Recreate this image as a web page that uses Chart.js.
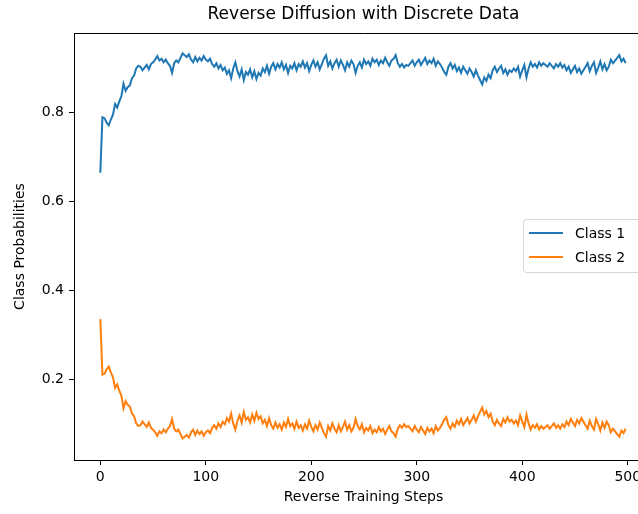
<!DOCTYPE html>
<html>
<head>
<meta charset="utf-8">
<script src="https://cdn.jsdelivr.net/npm/chart.js@4"></script>
<style>
  html, body { margin: 0; padding: 0; background: #fff; overflow: hidden; }
  #wrap { width: 638px; height: 514px; overflow: hidden; }
</style>
</head>
<body>
<div id="wrap"><canvas id="chart_diffusion" width="680" height="514"></canvas></div>
<script>
const chartTitle = "Reverse Diffusion with Discrete Data";
const seriesNames = ["Class 1", "Class 2"];
const xTicks = [0, 100, 200, 300, 400, 500];
const yTicks = [0.2, 0.4, 0.6, 0.8];

// class probabilities, read every 2nd step (0, 2, ... 498)
const class1 = [
  0.665, 0.790, 0.788, 0.778, 0.772, 0.785, 0.796, 0.820, 0.812, 0.826,
  0.838, 0.866, 0.850, 0.858, 0.862, 0.878, 0.884, 0.900, 0.906, 0.904,
  0.896, 0.902, 0.908, 0.898, 0.910, 0.914, 0.920, 0.928, 0.918, 0.922,
  0.914, 0.920, 0.912, 0.906, 0.890, 0.912, 0.918, 0.914, 0.924, 0.934,
  0.930, 0.926, 0.932, 0.920, 0.914, 0.926, 0.916, 0.924, 0.918, 0.928,
  0.920, 0.916, 0.922, 0.910, 0.904, 0.912, 0.900, 0.908, 0.896, 0.902,
  0.888, 0.896, 0.878, 0.900, 0.914, 0.894, 0.882, 0.898, 0.874, 0.892,
  0.886, 0.898, 0.880, 0.894, 0.876, 0.890, 0.884, 0.900, 0.892, 0.906,
  0.888, 0.904, 0.912, 0.898, 0.910, 0.902, 0.914, 0.898, 0.908, 0.890,
  0.906, 0.900, 0.912, 0.896, 0.910, 0.904, 0.916, 0.902, 0.912, 0.894,
  0.908, 0.918, 0.904, 0.914, 0.898, 0.910, 0.922, 0.930, 0.906, 0.916,
  0.900, 0.912, 0.920, 0.904, 0.918, 0.908, 0.896, 0.914, 0.904, 0.918,
  0.910, 0.890, 0.906, 0.914, 0.902, 0.920, 0.910, 0.916, 0.906, 0.922,
  0.914, 0.920, 0.908, 0.918, 0.912, 0.924, 0.914, 0.906, 0.918, 0.922,
  0.930, 0.912, 0.904, 0.910, 0.902, 0.908, 0.906, 0.912, 0.918, 0.906,
  0.914, 0.920, 0.908, 0.916, 0.924, 0.910, 0.918, 0.912, 0.922, 0.906,
  0.916, 0.910, 0.902, 0.892, 0.886, 0.904, 0.912, 0.900, 0.908, 0.894,
  0.902, 0.890, 0.904, 0.896, 0.888, 0.900, 0.892, 0.882, 0.896, 0.884,
  0.874, 0.864, 0.880, 0.872, 0.886, 0.878, 0.896, 0.904, 0.892, 0.900,
  0.906, 0.890, 0.898, 0.886, 0.896, 0.892, 0.900, 0.894, 0.904, 0.882,
  0.896, 0.908, 0.880, 0.900, 0.914, 0.904, 0.910, 0.902, 0.914, 0.906,
  0.912, 0.908, 0.904, 0.912, 0.906, 0.900, 0.910, 0.904, 0.912, 0.902,
  0.908, 0.896, 0.904, 0.890, 0.898, 0.906, 0.892, 0.900, 0.888, 0.896,
  0.904, 0.912, 0.894, 0.906, 0.914, 0.890, 0.902, 0.916, 0.898, 0.910,
  0.896, 0.904, 0.920, 0.912, 0.918, 0.924, 0.930, 0.916, 0.922, 0.912
];
const class2 = [
  0.335, 0.210, 0.212, 0.222, 0.228, 0.215, 0.204, 0.180, 0.188, 0.174,
  0.162, 0.134, 0.150, 0.142, 0.138, 0.122, 0.116, 0.100, 0.094, 0.096,
  0.104, 0.098, 0.092, 0.102, 0.090, 0.086, 0.080, 0.072, 0.082, 0.078,
  0.086, 0.080, 0.088, 0.094, 0.110, 0.088, 0.082, 0.086, 0.076, 0.066,
  0.070, 0.074, 0.068, 0.080, 0.086, 0.074, 0.084, 0.076, 0.082, 0.072,
  0.080, 0.084, 0.078, 0.090, 0.096, 0.088, 0.100, 0.092, 0.104, 0.098,
  0.112, 0.104, 0.122, 0.100, 0.086, 0.106, 0.118, 0.102, 0.126, 0.108,
  0.114, 0.102, 0.120, 0.106, 0.124, 0.110, 0.116, 0.100, 0.108, 0.094,
  0.112, 0.096, 0.088, 0.102, 0.090, 0.098, 0.086, 0.102, 0.092, 0.110,
  0.094, 0.100, 0.088, 0.104, 0.090, 0.096, 0.084, 0.098, 0.088, 0.106,
  0.092, 0.082, 0.096, 0.086, 0.102, 0.090, 0.078, 0.070, 0.094, 0.084,
  0.100, 0.088, 0.080, 0.096, 0.082, 0.092, 0.104, 0.086, 0.096, 0.082,
  0.090, 0.110, 0.094, 0.086, 0.098, 0.080, 0.090, 0.084, 0.094, 0.078,
  0.086, 0.080, 0.092, 0.082, 0.088, 0.076, 0.086, 0.094, 0.082, 0.078,
  0.070, 0.088, 0.096, 0.090, 0.098, 0.092, 0.094, 0.088, 0.082, 0.094,
  0.086, 0.080, 0.092, 0.084, 0.076, 0.090, 0.082, 0.088, 0.078, 0.094,
  0.084, 0.090, 0.098, 0.108, 0.114, 0.096, 0.088, 0.100, 0.092, 0.106,
  0.098, 0.110, 0.096, 0.104, 0.112, 0.100, 0.108, 0.118, 0.104, 0.116,
  0.126, 0.136, 0.120, 0.128, 0.114, 0.122, 0.104, 0.096, 0.108, 0.100,
  0.094, 0.110, 0.102, 0.114, 0.104, 0.108, 0.100, 0.106, 0.096, 0.118,
  0.104, 0.092, 0.120, 0.100, 0.086, 0.096, 0.090, 0.098, 0.086, 0.094,
  0.088, 0.092, 0.096, 0.088, 0.094, 0.100, 0.090, 0.096, 0.088, 0.098,
  0.092, 0.104, 0.096, 0.110, 0.102, 0.094, 0.108, 0.100, 0.112, 0.104,
  0.096, 0.088, 0.106, 0.094, 0.086, 0.110, 0.098, 0.084, 0.102, 0.090,
  0.104, 0.096, 0.080, 0.088, 0.082, 0.076, 0.070, 0.084, 0.078, 0.088
];
const steps = class1.map((_, i) => i * 2);

const colors = ["#1f77b4", "#ff7f0e"];
const fontFamily = "'DejaVu Sans', sans-serif";

// title over the axes, top spine, and a matplotlib style legend box
const mplExtras = {
  id: "mplExtras",
  afterDraw(chart) {
    const ctx = chart.ctx;
    const a = chart.chartArea;
    ctx.save();
    ctx.strokeStyle = "#000";
    ctx.lineWidth = 1;
    ctx.beginPath();
    ctx.moveTo(a.left, Math.round(a.top) + 0.5);
    ctx.lineTo(a.right, Math.round(a.top) + 0.5);
    ctx.moveTo(Math.round(a.right) - 0.5, a.top);
    ctx.lineTo(Math.round(a.right) - 0.5, a.bottom);
    ctx.stroke();

    ctx.fillStyle = "#000";
    ctx.font = "17px " + fontFamily;
    ctx.textAlign = "center";
    ctx.textBaseline = "middle";
    ctx.fillText(chartTitle, (a.left + a.right) / 2, 15);

    const bx = 523.5, by = 219.5, bw = 123, bh = 53;
    ctx.beginPath();
    ctx.roundRect(bx, by, bw, bh, 3);
    ctx.fillStyle = "rgba(255,255,255,0.8)";
    ctx.fill();
    ctx.strokeStyle = "#d6d6d6";
    ctx.stroke();

    ctx.font = "14px " + fontFamily;
    ctx.textAlign = "left";
    seriesNames.forEach((name, i) => {
      const ly = 233 + i * 24;
      ctx.strokeStyle = colors[i];
      ctx.lineWidth = 2;
      ctx.beginPath();
      ctx.moveTo(529, ly);
      ctx.lineTo(563, ly);
      ctx.stroke();
      ctx.fillStyle = "#000";
      ctx.fillText(name, 575, ly + 1);
    });
    ctx.restore();
  }
};

const ctx_diffusion = document.getElementById("chart_diffusion");

new Chart(ctx_diffusion, {
  type: "line",
  data: {
    labels: steps,
    datasets: [
      { label: seriesNames[0], data: class1, borderColor: colors[0], borderWidth: 2, pointRadius: 0, tension: 0 },
      { label: seriesNames[1], data: class2, borderColor: colors[1], borderWidth: 2, pointRadius: 0, tension: 0 }
    ]
  },
  options: {
    responsive: false,
    animation: false,
    layout: { padding: { top: 33, right: 27, left: 0, bottom: 0 } },
    plugins: {
      legend: { display: false },
      title: { display: false },
      tooltip: { enabled: false }
    },
    scales: {
      x: {
        type: "linear",
        min: -24.95,
        max: 523.95,
        afterFit: (s) => { s.height = 54; },
        afterBuildTicks: (s) => { s.ticks = xTicks.map(v => ({ value: v })); },
        grid: { display: true, drawOnChartArea: false, drawTicks: true, tickLength: 5, tickColor: "#000" },
        border: { display: true, color: "#000", width: 1 },
        ticks: { color: "#000", font: { family: fontFamily, size: 14 }, padding: 4, maxRotation: 0 },
        title: { display: true, text: "Reverse Training Steps", color: "#000", font: { family: fontFamily, size: 14 }, padding: { top: 0, bottom: 8 } }
      },
      y: {
        type: "linear",
        min: 0.0175,
        max: 0.98,
        afterFit: (s) => { s.width = 74; },
        afterBuildTicks: (s) => { s.ticks = yTicks.map(v => ({ value: v })); },
        grid: { display: true, drawOnChartArea: false, drawTicks: true, tickLength: 5, tickColor: "#000" },
        border: { display: true, color: "#000", width: 1 },
        ticks: { color: "#000", font: { family: fontFamily, size: 14 }, padding: 5, callback: (v) => v.toFixed(1) },
        title: { display: true, text: "Class Probabilities", color: "#000", font: { family: fontFamily, size: 14 }, padding: { top: 12, bottom: 0 } }
      }
    }
  },
  plugins: [mplExtras]
});
</script>
</body>
</html>
